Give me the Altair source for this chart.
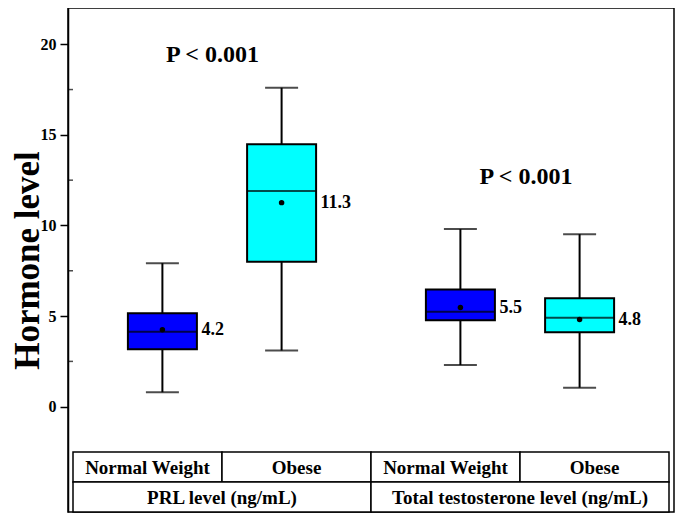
import altair as alt
import pandas as pd

# ---- data ----
groups = ["Normal Weight", "Obese", "Normal Weight", "Obese"]
hormones = ["PRL level (ng/mL)", "PRL level (ng/mL)",
            "Total testosterone level (ng/mL)", "Total testosterone level (ng/mL)"]
positions = [1.0, 2.0, 3.5, 4.5]
whisker_low = [0.80, 3.10, 2.30, 1.05]
q1 = [3.17, 8.00, 4.77, 4.11]
median = [4.14, 11.90, 5.24, 4.91]
q3 = [5.15, 14.48, 6.47, 5.99]
whisker_high = [7.92, 17.60, 9.80, 9.52]
means = [4.25, 11.26, 5.47, 4.81]
mean_labels = ["4.2", "11.3", "5.5", "4.8"]

p_text = ["P < 0.001", "P < 0.001"]
p_x = [1.42, 4.05]
p_y = [19.4, 12.7]

major_ticks = [0, 5, 10, 15, 20]
minor_ticks = [2.5, 7.5, 12.5, 17.5]
y_domain = [-2.5, 22]

FONT = "Liberation Serif"
W, H_PLOT, ROW = 606, 444, 30
H = H_PLOT + 2 * ROW
unit = (y_domain[1] - y_domain[0]) / H_PLOT      # data units per pixel
row_u = ROW * unit
r0 = y_domain[0]
r1 = r0 - row_u
r2 = r1 - row_u

box_df = pd.DataFrame({
    "pos": positions, "grp": groups, "hormone": hormones,
    "lo": whisker_low, "q1": q1, "med": median, "q3": q3, "hi": whisker_high,
    "mean": means, "label": mean_labels,
})

# table cell boundaries derived from the box positions
edges = [positions[0] - 0.75,
         (positions[0] + positions[1]) / 2,
         (positions[1] + positions[2]) / 2,
         (positions[2] + positions[3]) / 2,
         positions[3] + 0.75]
cells = pd.DataFrame({
    "x0": edges[:4] + [edges[0], edges[2]],
    "x1": edges[1:] + [edges[2], edges[4]],
    "yt": [r0] * 4 + [r1] * 2,
    "yb": [r1] * 4 + [r2] * 2,
    "txt": groups + [hormones[0], hormones[2]],
})
cells["mid"] = (cells.x0 + cells.x1) / 2
cells["ym"] = (cells.yt + cells.yb) / 2

p_df = pd.DataFrame({"x": p_x, "y": p_y, "txt": p_text})
minor_df = pd.DataFrame({"v": minor_ticks, "x": [edges[0]] * len(minor_ticks)})

xs = alt.Scale(domain=[edges[0], edges[4]], nice=False, zero=False)
ys = alt.Scale(domain=[r2, y_domain[1]], nice=False, zero=False)

yaxis = alt.Axis(values=major_ticks, title="Hormone level", grid=False,
                 tickSize=8, tickWidth=1.5, domainWidth=1.5,
                 tickColor="black", domainColor="black",
                 labelFont=FONT, labelFontSize=16, labelFontWeight="bold",
                 labelColor="black", labelPadding=4,
                 titleFont=FONT, titleFontSize=35, titleFontWeight="bold",
                 titleColor="black", titlePadding=-5)

base = alt.Chart(box_df)

whiskers = base.mark_rule(color="black", strokeWidth=2).encode(
    x=alt.X("pos:Q", scale=xs, axis=None),
    y=alt.Y("lo:Q", scale=ys, axis=yaxis), y2="hi:Q")

caps_lo = base.mark_tick(orient="horizontal", size=33, thickness=2,
                         color="black").encode(x="pos:Q", y="lo:Q")
caps_hi = base.mark_tick(orient="horizontal", size=33, thickness=2,
                         color="black").encode(x="pos:Q", y="hi:Q")

boxes = base.mark_bar(size=69, stroke="black", strokeWidth=2).encode(
    x="pos:Q", y="q1:Q", y2="q3:Q",
    color=alt.Color("grp:N", scale=alt.Scale(domain=["Normal Weight", "Obese"],
                                            range=["#0000FF", "#00FFFF"]),
                    legend=None))

medians = base.mark_tick(orient="horizontal", size=69, thickness=2,
                         color="black").encode(x="pos:Q", y="med:Q")

mean_pts = base.mark_circle(size=30, color="black", opacity=1).encode(
    x="pos:Q", y="mean:Q")

mean_txt = base.mark_text(align="left", baseline="middle", dx=39, font=FONT,
                          fontSize=18, fontWeight="bold", color="black").encode(
    x="pos:Q", y="mean:Q", text="label:N")

p_marks = alt.Chart(p_df).mark_text(font=FONT, fontSize=24, fontWeight="bold",
                                    color="black", baseline="middle").encode(
    x="x:Q", y="y:Q", text="txt:N")

minor = alt.Chart(minor_df).mark_tick(orient="horizontal", size=4, xOffset=-2,
                                      thickness=1.5, color="black").encode(
    x="x:Q", y="v:Q")

cell_rects = alt.Chart(cells).mark_rect(fill="white", stroke="black",
                                        strokeWidth=1.5).encode(
    x="x0:Q", x2="x1:Q", y="yt:Q", y2="yb:Q")
cell_text = alt.Chart(cells).mark_text(font=FONT, fontSize=19, fontWeight="bold",
                                       color="black", baseline="middle", dy=1).encode(
    x="mid:Q", y="ym:Q", text="txt:N")

chart = alt.layer(
    whiskers, cell_rects, cell_text, caps_lo, caps_hi, boxes, medians, mean_pts,
    mean_txt, p_marks, minor
).properties(
    width=W, height=H, padding={"left": 2, "top": 0, "right": 2, "bottom": 0}
).configure_view(stroke="black", strokeWidth=1.5).configure_axis(
    labelFont=FONT, labelFontWeight="bold", labelFontSize=16, labelColor="black",
    titleFont=FONT, titleFontWeight="bold")

chart.save("out.html", embed_options={"renderer": "svg", "actions": False})
